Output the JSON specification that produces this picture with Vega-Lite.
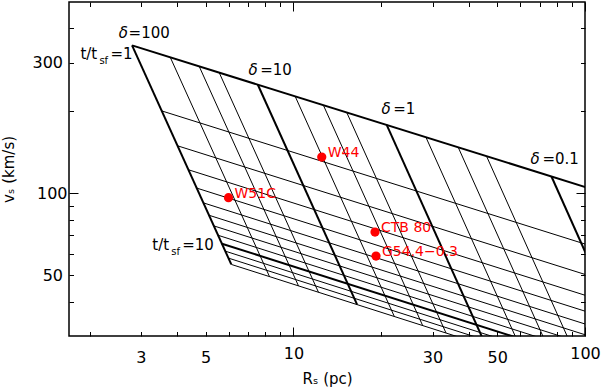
{
  "$schema": "https://vega.github.io/schema/vega-lite/v6.json",
  "width": 516,
  "height": 334,
  "autosize": {"type": "none"},
  "padding": {"left": 69, "top": 2, "right": 17, "bottom": 53},
  "config": {
    "view": {"stroke": "black", "strokeWidth": 1.5},
    "font": "DejaVu Sans",
    "axis": {
      "domain": false,
      "grid": false,
      "tickColor": "black",
      "tickWidth": 1,
      "labelColor": "black",
      "labelFont": "DejaVu Sans",
      "labelFontSize": 16,
      "labelOverlap": false,
      "labelFlush": false,
      "labelBound": false,
      "titleFont": "DejaVu Sans",
      "titleFontSize": 15,
      "titleFontWeight": "normal",
      "titleColor": "black"
    }
  },
  "datasets": {
    "lines": [
      {"id": "t1", "kind": "thick", "R": 2.797, "v": 346.9}, {"id": "t1", "kind": "thick", "R": 111.3, "v": 101.6},
      {"id": "t2", "kind": "thin", "R": 3.535, "v": 199.8}, {"id": "t2", "kind": "thin", "R": 140.7, "v": 58.05},
      {"id": "t3", "kind": "thin", "R": 4.006, "v": 148.9}, {"id": "t3", "kind": "thin", "R": 159.5, "v": 43.06},
      {"id": "t4", "kind": "thin", "R": 4.365, "v": 121.7}, {"id": "t4", "kind": "thin", "R": 173.8, "v": 35.09},
      {"id": "t5", "kind": "thin", "R": 4.660, "v": 104.3}, {"id": "t5", "kind": "thin", "R": 185.5, "v": 30.01},
      {"id": "t6", "kind": "thin", "R": 4.912, "v": 92.08}, {"id": "t6", "kind": "thin", "R": 195.6, "v": 26.45},
      {"id": "t7", "kind": "thin", "R": 5.136, "v": 82.95}, {"id": "t7", "kind": "thin", "R": 204.5, "v": 23.79},
      {"id": "t8", "kind": "thin", "R": 5.336, "v": 75.84}, {"id": "t8", "kind": "thin", "R": 212.4, "v": 21.73},
      {"id": "t9", "kind": "thin", "R": 5.518, "v": 70.07}, {"id": "t9", "kind": "thin", "R": 219.7, "v": 20.04},
      {"id": "t10", "kind": "thick", "R": 5.686, "v": 65.29}, {"id": "t10", "kind": "thick", "R": 226.3, "v": 18.66},
      {"id": "t11", "kind": "thin", "R": 5.841, "v": 61.30}, {"id": "t11", "kind": "thin", "R": 232.5, "v": 17.49},
      {"id": "t12", "kind": "thin", "R": 5.987, "v": 57.82}, {"id": "t12", "kind": "thin", "R": 238.4, "v": 16.49},
      {"id": "t13", "kind": "thin", "R": 6.124, "v": 54.83}, {"id": "t13", "kind": "thin", "R": 243.8, "v": 15.62},
      {"id": "d100", "kind": "thick", "R": 2.797, "v": 346.9}, {"id": "d100", "kind": "thick", "R": 6.124, "v": 54.83},
      {"id": "d50", "kind": "thin", "R": 3.783, "v": 313.6}, {"id": "d50", "kind": "thin", "R": 8.282, "v": 49.46},
      {"id": "d30", "kind": "thin", "R": 4.754, "v": 290.6}, {"id": "d30", "kind": "thin", "R": 10.41, "v": 45.76},
      {"id": "d20", "kind": "thin", "R": 5.567, "v": 275.7}, {"id": "d20", "kind": "thin", "R": 12.19, "v": 43.36},
      {"id": "d10", "kind": "thick", "R": 7.552, "v": 249.1}, {"id": "d10", "kind": "thick", "R": 16.54, "v": 39.08},
      {"id": "d5", "kind": "thin", "R": 10.14, "v": 225.9}, {"id": "d5", "kind": "thin", "R": 22.19, "v": 35.36},
      {"id": "d3", "kind": "thin", "R": 12.67, "v": 209.7}, {"id": "d3", "kind": "thin", "R": 27.75, "v": 32.77},
      {"id": "d2", "kind": "thin", "R": 15.24, "v": 197.1}, {"id": "d2", "kind": "thin", "R": 33.37, "v": 30.77},
      {"id": "d1", "kind": "thick", "R": 20.89, "v": 177.5}, {"id": "d1", "kind": "thick", "R": 45.74, "v": 27.64},
      {"id": "d0.5", "kind": "thin", "R": 28.48, "v": 160.0}, {"id": "d0.5", "kind": "thin", "R": 62.35, "v": 24.86},
      {"id": "d0.3", "kind": "thin", "R": 36.74, "v": 147.1}, {"id": "d0.3", "kind": "thin", "R": 80.44, "v": 22.80},
      {"id": "d0.2", "kind": "thin", "R": 45.96, "v": 136.4}, {"id": "d0.2", "kind": "thin", "R": 100.6, "v": 21.12},
      {"id": "d0.1", "kind": "thick", "R": 76.74, "v": 115.0}, {"id": "d0.1", "kind": "thick", "R": 168.0, "v": 17.74}
    ],
    "snr": [
      {"name": "W51C", "R": 5.99, "v": 96.2},
      {"name": "W44", "R": 12.51, "v": 135.4},
      {"name": "CTB 80", "R": 19.05, "v": 72.0},
      {"name": "G54.4−0.3", "R": 19.2, "v": 58.8}
    ],
    "main": [
      {"text": "=100", "R": 2.722, "v": 370.2},
      {"text": "=10", "R": 7.691, "v": 269.5},
      {"text": "=1", "R": 22.0, "v": 195.2},
      {"text": "=0.1", "R": 71.46, "v": 128.1},
      {"text": "t/t", "R": 1.860, "v": 310.1},
      {"text": "=1", "R": 2.357, "v": 310.1},
      {"text": "t/t", "R": 3.282, "v": 62.09},
      {"text": "=10", "R": 4.157, "v": 62.09}
    ],
    "greek": [
      {"text": "δ", "R": 2.516, "v": 370.2},
      {"text": "δ", "R": 7.013, "v": 269.5},
      {"text": "δ", "R": 20.07, "v": 195.2},
      {"text": "δ", "R": 65.01, "v": 128.1}
    ],
    "subs": [
      {"text": "sf", "R": 2.161, "v": 295.6},
      {"text": "sf", "R": 3.813, "v": 59.17}
    ]
  },
  "layer": [
    {
      "data": {"name": "lines"},
      "mark": {"type": "line", "clip": true, "color": "black"},
      "encoding": {
        "x": {
          "field": "R", "type": "quantitative",
          "scale": {"type": "log", "domain": [1.7, 100], "nice": false},
          "axis": {
            "orient": "bottom",
            "values": [2, 3, 4, 5, 6, 7, 8, 9, 10, 20, 30, 40, 50, 60, 70, 80, 90, 100],
            "tickSize": {"condition": {"test": "datum.value == 10 || datum.value == 100", "value": -9}, "value": -4.5},
            "labelExpr": "indexof([3, 5, 10, 30, 50, 100], datum.value) >= 0 ? datum.value + '' : ''",
            "labelPadding": 18,
            "title": "Rₛ (pc)",
            "titlePadding": 6
          }
        },
        "y": {
          "field": "v", "type": "quantitative",
          "scale": {"type": "log", "domain": [30, 500], "nice": false},
          "axis": {
            "orient": "left",
            "values": [40, 50, 60, 70, 80, 90, 100, 200, 300, 400],
            "tickSize": {"condition": {"test": "datum.value == 100", "value": -9}, "value": -4.5},
            "labelExpr": "indexof([50, 100, 300], datum.value) >= 0 ? datum.value + '' : ''",
            "labelPadding": 11,
            "title": "vₛ (km/s)",
            "titlePadding": 15
          }
        },
        "detail": {"field": "id"},
        "strokeWidth": {"field": "kind", "type": "nominal", "scale": {"domain": ["thick", "thin"], "range": [2, 1]}, "legend": null}
      }
    },
    {
      "data": {"name": "snr"},
      "mark": {"type": "circle", "color": "#ff0000", "size": 85, "opacity": 1},
      "encoding": {
        "x": {
          "field": "R", "type": "quantitative",
          "axis": {
            "orient": "top",
            "values": [2, 3, 4, 5, 6, 7, 8, 9, 10, 20, 30, 40, 50, 60, 70, 80, 90, 100],
            "tickSize": {"condition": {"test": "datum.value == 10 || datum.value == 100", "value": -9}, "value": -4.5},
            "labels": false,
            "title": null
          }
        },
        "y": {
          "field": "v", "type": "quantitative",
          "axis": {
            "orient": "right",
            "values": [40, 50, 60, 70, 80, 90, 100, 200, 300, 400],
            "tickSize": {"condition": {"test": "datum.value == 100", "value": -9}, "value": -4.5},
            "labels": false,
            "title": null
          }
        }
      }
    },
    {
      "data": {"name": "snr"},
      "mark": {"type": "text", "align": "left", "baseline": "middle", "dx": 6, "dy": -4, "fontSize": 14, "color": "#ff0000", "font": "DejaVu Sans"},
      "encoding": {
        "x": {"field": "R", "type": "quantitative", "axis": null},
        "y": {"field": "v", "type": "quantitative", "axis": null},
        "text": {"field": "name"}
      }
    },
    {
      "data": {"name": "main"},
      "mark": {"type": "text", "align": "left", "baseline": "alphabetic", "fontSize": 15, "color": "black", "font": "DejaVu Sans"},
      "encoding": {
        "x": {"field": "R", "type": "quantitative", "axis": null},
        "y": {"field": "v", "type": "quantitative", "axis": null},
        "text": {"field": "text"}
      }
    },
    {
      "data": {"name": "greek"},
      "mark": {"type": "text", "align": "left", "baseline": "alphabetic", "fontSize": 15, "fontStyle": "italic", "color": "black", "font": "DejaVu Sans"},
      "encoding": {
        "x": {"field": "R", "type": "quantitative", "axis": null},
        "y": {"field": "v", "type": "quantitative", "axis": null},
        "text": {"field": "text"}
      }
    },
    {
      "data": {"name": "subs"},
      "mark": {"type": "text", "align": "left", "baseline": "alphabetic", "fontSize": 10, "color": "black", "font": "DejaVu Sans"},
      "encoding": {
        "x": {"field": "R", "type": "quantitative", "axis": null},
        "y": {"field": "v", "type": "quantitative", "axis": null},
        "text": {"field": "text"}
      }
    }
  ],
  "resolve": {"axis": {"x": "independent", "y": "independent"}}
}
